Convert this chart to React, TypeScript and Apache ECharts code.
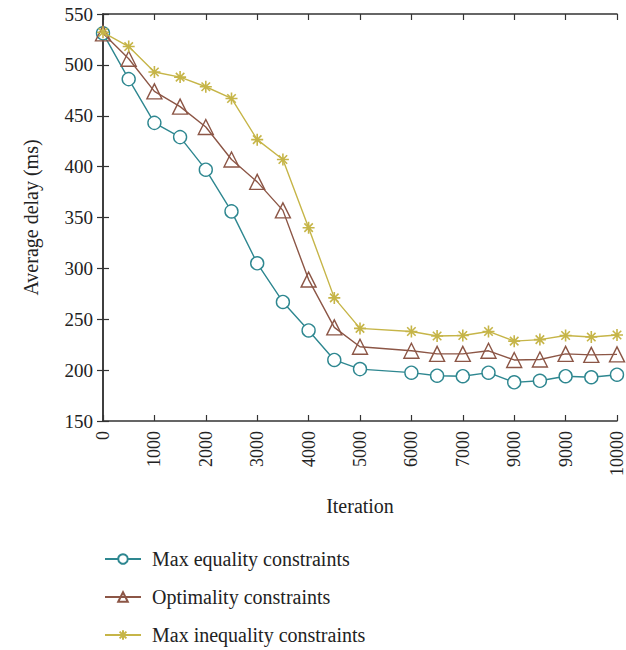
import React, { useEffect, useRef } from "react";
import * as echarts from "echarts";

// Iterations sampled by the simulation
const iterations = [0, 500, 1000, 1500, 2000, 2500, 3000, 3500, 4000, 4500, 5000, 6000, 6500, 7000, 7500, 8000, 8500, 9000, 9500, 10000];

// Average delay (ms) per constraint scheme
const maxEquality = [531, 486, 443, 429, 397, 356, 305, 267, 239, 210, 201, 197.5, 194.5, 194, 197.5, 188, 189.5, 194, 193, 195.5];
const optimality = [531, 506, 474, 459, 439, 407, 385, 357, 289, 242, 223, 219, 216, 216, 219, 210, 210.5, 216, 215, 215.5];
const maxInequality = [532, 518, 493, 488, 478.5, 467, 426.5, 407, 340, 271, 241, 238, 233.5, 234, 238, 228.5, 230, 234, 232.5, 234.5];

// Bottom axis tick labels, as printed
const xTickLabels = ["0", "1000", "2000", "3000", "4000", "5000", "6000", "7000", "9000", "9000", "10000"];

const seriesNames = ["Max equality constraints", "Optimality constraints", "Max inequality constraints"];

const FONT = "Liberation Serif";
const TEAL = "#2e8790";
const BROWN = "#8c5646";
const YELLOW = "#c6b548";
const AXIS = "#333";
const TEXT = "#222";

// eight-spoke asterisk marker
const ASTERISK =
  "path://M0,-10L0,10M-10,0L10,0M-7.07,-7.07L7.07,7.07M-7.07,7.07L7.07,-7.07";

function toPairs(vals: number[]) {
  return iterations.map((x, i) => [x, vals[i]]);
}

export default function App() {
  const ref = useRef<HTMLDivElement>(null);

  useEffect(() => {
    // the chart fills the whole window, so drop the default body margin
    const prevMargin = document.body.style.margin;
    document.body.style.margin = "0";

    if (!ref.current) return;
    const chart = echarts.init(ref.current, null, { renderer: "svg" });

    const axisLine = { show: true, lineStyle: { color: AXIS, width: 1.5 } };
    const axisTick = { show: true, inside: true, length: 6, lineStyle: { color: AXIS, width: 1.2 } };

    chart.setOption({
      animation: false,
      backgroundColor: "#fff",
      textStyle: { fontFamily: FONT },
      grid: { left: 103, right: 7, top: 14, bottom: 229, containLabel: false },
      legend: {
        orient: "vertical",
        left: 104,
        top: 549,
        height: 101,
        padding: 0,
        itemWidth: 36,
        itemHeight: 12,
        itemGap: 18,
        textStyle: { fontFamily: FONT, fontSize: 20, color: TEXT, padding: [0, 0, 0, 6] },
        data: seriesNames,
      },
      xAxis: [
        {
          type: "value",
          min: 0,
          max: 10000,
          interval: 1000,
          name: "Iteration",
          nameLocation: "middle",
          nameGap: 75,
          nameTextStyle: { fontFamily: FONT, fontSize: 20, color: TEXT },
          axisLine,
          axisTick,
          splitLine: { show: false },
          axisLabel: {
            rotate: 90,
            fontFamily: FONT,
            fontSize: 18,
            color: TEXT,
            margin: 10,
            formatter: (v: number) => xTickLabels[Math.round(v / 1000)] ?? "",
          },
        },
        {
          type: "value",
          position: "top",
          min: 0,
          max: 10000,
          interval: 1000,
          axisLine,
          axisTick,
          axisLabel: { show: false },
          splitLine: { show: false },
        },
      ],
      yAxis: [
        {
          type: "value",
          min: 150,
          max: 550,
          interval: 50,
          name: "Average delay (ms)",
          nameLocation: "middle",
          nameGap: 62,
          nameTextStyle: { fontFamily: FONT, fontSize: 20, color: TEXT },
          axisLine,
          axisTick,
          splitLine: { show: false },
          axisLabel: { fontFamily: FONT, fontSize: 19, color: TEXT, margin: 10 },
        },
        {
          type: "value",
          position: "right",
          min: 150,
          max: 550,
          interval: 50,
          axisLine,
          axisTick,
          axisLabel: { show: false },
          splitLine: { show: false },
        },
      ],
      series: [
        {
          name: seriesNames[0],
          type: "line",
          data: toPairs(maxEquality),
          symbol: "circle",
          symbolSize: 13,
          showAllSymbol: true,
          lineStyle: { color: TEAL, width: 1.4 },
          itemStyle: { color: "#fff", borderColor: TEAL, borderWidth: 1.4 },
          z: 3,
        },
        {
          name: seriesNames[1],
          type: "line",
          data: toPairs(optimality),
          symbol: "triangle",
          symbolSize: 15,
          showAllSymbol: true,
          lineStyle: { color: BROWN, width: 1.4 },
          itemStyle: { color: "rgba(255,255,255,0)", borderColor: BROWN, borderWidth: 1.4 },
          z: 4,
        },
        {
          name: seriesNames[2],
          type: "line",
          data: toPairs(maxInequality),
          symbol: ASTERISK,
          symbolSize: 12,
          showAllSymbol: true,
          lineStyle: { color: YELLOW, width: 1.4 },
          itemStyle: { color: YELLOW, borderColor: YELLOW, borderWidth: 1.6 },
          z: 5,
        },
      ],
    });

    return () => {
      chart.dispose();
      document.body.style.margin = prevMargin;
    };
  }, []);

  return <div ref={ref} style={{ width: 626, height: 650 }} />;
}
